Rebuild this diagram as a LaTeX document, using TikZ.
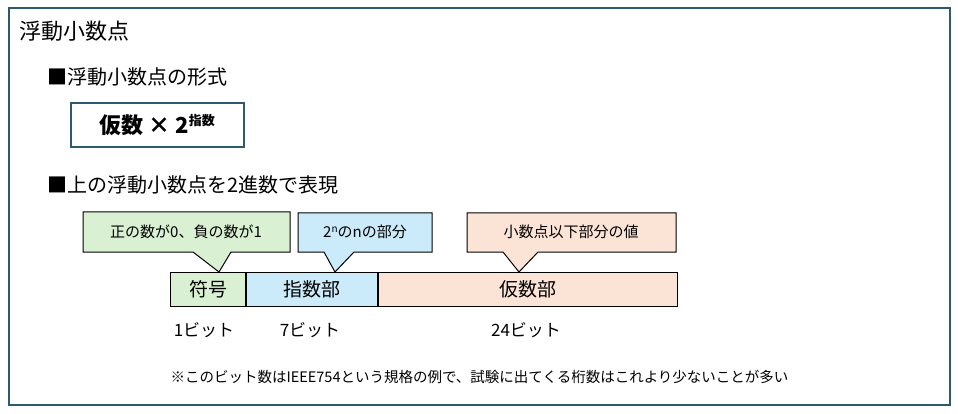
\documentclass[tikz,border=0pt]{standalone}
\usepackage{fontspec}
\setmainfont{Noto Sans CJK JP}
\usetikzlibrary{positioning}
\definecolor{frame}{HTML}{2E5A6E}
\definecolor{signfill}{HTML}{D9F0D3}
\definecolor{expfill}{HTML}{CCEBFA}
\definecolor{manfill}{HTML}{FBE3D6}
\tikzset{
  field/.style={draw, line width=1pt, minimum height=34pt, inner sep=0pt, font=\fontsize{19}{19}\selectfont},
  bits/.style={anchor=center, font=\fontsize{17}{17}\selectfont},
  heading/.style={anchor=west, font=\fontsize{20}{20}\selectfont}
}
\begin{document}
\begin{tikzpicture}[x=1pt,y=-1pt]
\useasboundingbox (0,0) rectangle (958,414);
\draw[frame, line width=1.5pt] (9,8) rectangle (950,405);
\node[heading, font=\fontsize{22}{22}\selectfont] (title) at (16,31) {浮動小数点};
\node[heading] (form) at (44,77) {■浮動小数点の形式};
\node[draw=frame, line width=1.5pt, anchor=west, minimum width=173pt, minimum height=44pt,
  font=\bfseries\fontsize{22}{22}\selectfont] (formula) at (70,125) {仮数 × 2\raisebox{8pt}{\fontsize{13}{13}\selectfont 指数}};
\node[heading] (bin) at (44,185) {■上の浮動小数点を2進数で表現};
% bit fields
\node[field, fill=signfill, anchor=north west, minimum width=75pt] (sign) at (170,272) {符号};
\node[field, fill=expfill, right=0pt of sign, minimum width=131pt] (expo) {指数部};
\node[field, fill=manfill, right=0pt of expo, minimum width=299pt] (mant) {仮数部};
% callouts
\draw[line width=1pt, fill=signfill] (83,212) -- (290,212) -- (290,252) -- (231,252) -- (219,272) -- (193,252) -- (83,252) -- cycle;
\node[font=\fontsize{15}{15}\selectfont] (signnote) at (186,232) {正の数が0、負の数が1};
\draw[line width=1pt, fill=expfill] (298,213) -- (432,213) -- (432,252) -- (354,252) -- (335,272) -- (324,252) -- (298,252) -- cycle;
\node[font=\fontsize{15}{15}\selectfont] (exponote) at (365,232) {2\raisebox{5pt}{\fontsize{10}{10}\selectfont n}のnの部分};
\draw[line width=1pt, fill=manfill] (467,213) -- (676,213) -- (676,252) -- (538,252) -- (519,272) -- (503,252) -- (467,252) -- cycle;
\node[font=\fontsize{15}{15}\selectfont] (mantnote) at (571,232) {小数点以下部分の値};
% widths
\node[bits] (b1) at (204,330) {1ビット};
\node[bits] (b7) at (310,330) {7ビット};
\node[bits] (b24) at (526,330) {24ビット};
\node[anchor=west, font=\fontsize{14.5}{14.5}\selectfont] (note) at (167,377) {※このビット数はIEEE754という規格の例で、試験に出てくる桁数はこれより少ないことが多い};
\end{tikzpicture}
\end{document}
